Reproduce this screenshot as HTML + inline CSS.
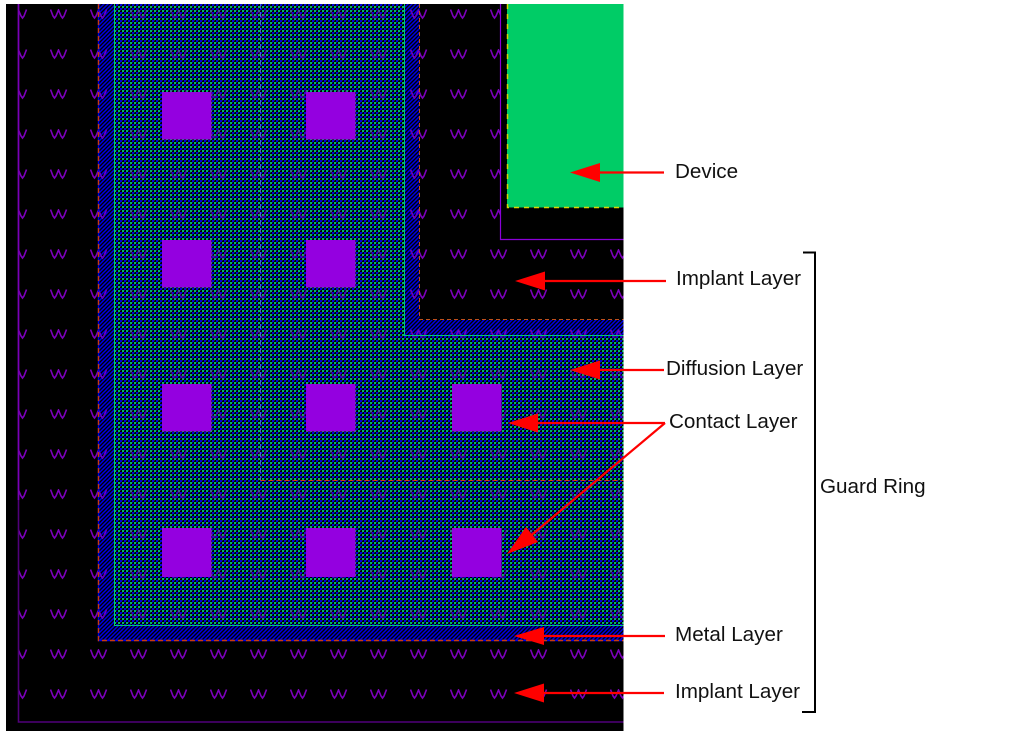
<!DOCTYPE html>
<html><head><meta charset="utf-8"><style>
html,body{margin:0;padding:0;background:#fff;width:1013px;height:737px;overflow:hidden}
svg{display:block}
text{font-family:"Liberation Sans",sans-serif;font-size:20.65px;fill:#111}
</style></head><body>
<svg width="1013" height="737" viewBox="0 0 1013 737" xmlns="http://www.w3.org/2000/svg">
<defs>
<pattern id="w" width="40" height="40" patternUnits="userSpaceOnUse" x="10" y="9">
<path d="M0.5 0.5 L3 7 L4.5 9 L6 7 L8.5 1 L11 7 L12.5 9 L14 7 L16.5 0.5" fill="none" stroke="#7c00bc" stroke-width="1.6"/>
</pattern>
<pattern id="chk" width="4" height="4" patternUnits="userSpaceOnUse">
<rect x="0" y="0" width="2" height="2" fill="#0000e0"/>
<rect x="2" y="2" width="2" height="2" fill="#00b468"/>
<rect x="2" y="0" width="1" height="1" fill="#00304a"/>
<rect x="0" y="2" width="1" height="1" fill="#00304a"/>
</pattern>
<pattern id="hatch" width="4" height="4" patternUnits="userSpaceOnUse">
<path d="M-1 1 L1 -1 M0 4 L4 0 M3 5 L5 3" stroke="#0000e8" stroke-width="1.5"/>
</pattern>
<clipPath id="impl"><rect x="18" y="4" width="606" height="718"/></clipPath>
</defs>
<!-- black field -->
<rect x="6" y="4" width="617.5" height="727" fill="#000"/>
<!-- W stipple -->
<rect x="6" y="4" width="617.5" height="727" fill="url(#w)" clip-path="url(#impl)"/>
<!-- device well -->
<rect x="501" y="4" width="122.5" height="235" fill="#000"/>
<!-- metal hatch -->
<path d="M98 4 H419.5 V320 H623.5 V640 H98 Z" fill="url(#hatch)"/>
<path d="M98 4 H419.5 V320 H623.5 V640 H98 Z" fill="url(#w)" opacity=".7"/>
<!-- diffusion -->
<path d="M115 4 H404.5 V335.5 H623.5 V625.5 H115 Z" fill="#000"/>
<path d="M115 4 H404.500 V335.500 H623.500 V625.500 H115 Z" fill="url(#chk)"/>
<path d="M115 4 H404.500 V335.500 H623.500 V625.500 H115 Z" fill="url(#w)" opacity=".5"/>
<!-- green outlines -->
<path d="M114.500 4 V625.500 H623.500 M404.500 4 V335.500 H623.500" fill="none" stroke="#00c878" stroke-width="1"/>
<!-- dashed metal edge -->
<path d="M98.500 4 V640.500 H623.500" fill="none" stroke="#0000e0" stroke-width="1.400"/>
<path d="M98.500 4 V640.500 H623.500" fill="none" stroke="#c83a10" stroke-width="1.400" stroke-dasharray="5 3"/>
<path d="M419.500 4 V319.500 H623.500" fill="none" stroke="#c0501c" stroke-width="1" stroke-dasharray="4 3"/>
<!-- inner dashed -->
<path d="M260.500 4 V480.500" fill="none" stroke="#5a8ae0" stroke-width="1" stroke-dasharray="5 3" opacity=".7"/>
<path d="M260.500 480.500 H623.500" fill="none" stroke="#d23a10" stroke-width="1" stroke-dasharray="5 3"/>
<!-- implant lines -->
<path d="M18.500 4 V722 H623.500" fill="none" stroke="#50007a" stroke-width="1.600"/>
<path d="M18.500 4 V500" fill="none" stroke="#7a00b8" stroke-width="1.600"/>
<path d="M500.500 4 V239.500 H623.500" fill="none" stroke="#8a00d8" stroke-width="1.200"/>
<!-- device -->
<rect x="507" y="4" width="116.500" height="203.500" fill="#00cc66"/>
<path d="M507.500 4 V207.500 H623.500" fill="none" stroke="#d8d800" stroke-width="1.500" stroke-dasharray="5 5"/>
<!-- contacts -->
<g fill="#9400e0">
<rect x="162" y="92" width="49.500" height="47.500"/><rect x="306" y="92" width="49.500" height="47.500"/>
<rect x="162" y="240" width="49.500" height="47.500"/><rect x="306" y="240" width="49.500" height="47.500"/>
<rect x="162" y="384" width="49.500" height="47.500"/><rect x="306" y="384" width="49.500" height="47.500"/><rect x="452" y="384" width="49.500" height="47.500"/>
<rect x="162" y="528" width="49.500" height="49"/><rect x="306" y="528" width="49.500" height="49"/><rect x="452" y="528" width="49.500" height="49"/>
</g>
<!-- arrows -->
<g stroke="#f00" stroke-width="2.200" fill="none">
<path d="M664 172.500 H595"/>
<path d="M666 281 H540"/>
<path d="M664 370 H595"/>
<path d="M665 423 H533 M665 423 L528 538"/>
<path d="M665 636 H540"/>
<path d="M664 693 H540"/>
</g>
<g fill="#f00">
<path d="M570 172.500 L600 163 V182 Z"/>
<path d="M515 281 L545 271.500 V290.500 Z"/>
<path d="M570 370 L600 360.500 V379.500 Z"/>
<path d="M508 423 L538 413.500 V432.500 Z"/>
<path d="M507 554 L526 527 L538 542 Z"/>
<path d="M514 636 L544 627 V645 Z"/>
<path d="M514 693 L544 683.500 V702.500 Z"/>
</g>
<!-- bracket -->
<path d="M803 252.500 H815 V712 H802" fill="none" stroke="#000" stroke-width="2"/>
<!-- labels -->
<text x="675" y="178">Device</text>
<text x="676" y="285">Implant Layer</text>
<text x="666" y="375">Diffusion Layer</text>
<text x="669" y="428">Contact Layer</text>
<text x="820" y="493">Guard Ring</text>
<text x="675" y="641">Metal Layer</text>
<text x="675" y="698">Implant Layer</text>
</svg>
</body></html>
